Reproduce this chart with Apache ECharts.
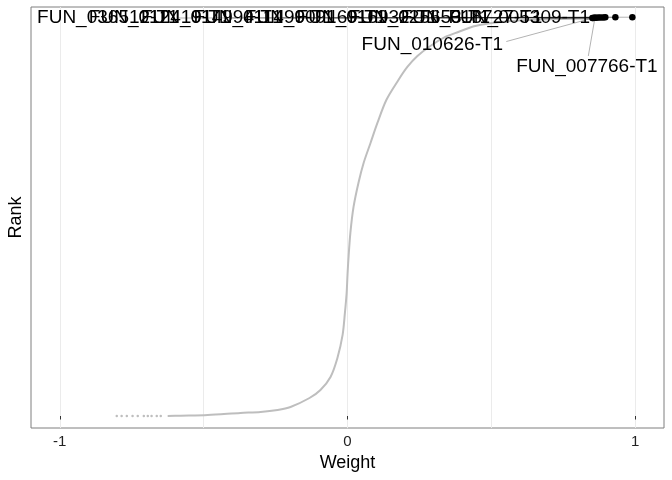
<!DOCTYPE html>
<html><head><meta charset="utf-8">
<script src="https://cdn.jsdelivr.net/npm/echarts@6/dist/echarts.min.js"></script>
<style>html,body{margin:0;padding:0;background:#fff}#c{width:672px;height:480px}</style>
</head><body><div id="c"></div>
<script>
// Ranked weight curve, bottom to top
const curveWeight = [-0.625,-0.580,-0.486,-0.372,-0.302,-0.243,-0.198,-0.132,-0.094,-0.059,-0.035,-0.017,-0.009,-0.003,0.000,0.003,0.010,0.021,0.038,0.056,0.080,0.104,0.135,0.177,0.208,0.243,0.288,0.340,0.385,0.444,0.531,0.670,0.844];
const curveRank   = [0,4,13,38,50,75,113,225,325,488,725,1013,1288,1538,1763,1950,2288,2613,2913,3163,3413,3663,3950,4200,4363,4500,4625,4738,4800,4875,4925,4956,4969];
// Sparse low-weight points at the bottom
const sparseWeight = [-0.649,-0.663,-0.681,-0.694,-0.708,-0.729,-0.747,-0.767,-0.785,-0.802];
const sparseRank   = [0,0,0,0,0,0,0,0,0,0];
// Highlighted top genes
const topWeight = [0.990,0.931,0.896,0.889,0.880,0.872,0.865,0.858,0.851,0.854,0.860];
const topRank   = [4985,4984,4983,4982,4981,4980,4979,4978,4975,4976,4977];
// Gene labels
const labelNames = ['FUN_036512-T1','FUN_012419-T1','FUN_014994-T1','FUN_011499-T1','FUN_009169-T1','FUN_016932-T1','FUN_025653-T1','FUN_018727-T1','FUN_005309-T1','FUN_010626-T1','FUN_007766-T1'];
const labelWeight = [-0.833,-0.653,-0.472,-0.292,-0.111,0.069,0.250,0.431,0.597,0.295,0.832];
const labelRank   = [4975,4975,4975,4975,4975,4975,4975,4975,4975,4638,4363];
const segFromWeight = [-0.587,-0.406,-0.226,-0.045,0.135,0.316,0.497,0.677,0.844,0.552,0.837];
const segFromRank   = [4975,4975,4975,4975,4975,4975,4975,4975,4975,4681,4500];
const xTicks = [-1,0,1];
const xGrid = [-1,-0.5,0,0.5,1];

const F = '"Liberation Sans", Arial, sans-serif';
const chart = echarts.init(document.getElementById('c'), null, {renderer:'canvas'});
const zip = (a,b)=>a.map((v,i)=>[v,b[i]]);
const segs = labelNames.map((n,i)=>({coords:[[segFromWeight[i],segFromRank[i]],[topWeight[i],topRank[i]]]}));
chart.setOption({
  animation:false,
  textStyle:{fontFamily:F},
  grid:{left:31,right:8,top:7,bottom:52,show:true,borderColor:'#7f7f7f',borderWidth:1,backgroundColor:'#fff',
        outerBoundsMode:'none',containLabel:false},
  xAxis:[
    {type:'value',min:-1.1,max:1.1,position:'bottom',
     name:'Weight',nameLocation:'middle',nameGap:26,
     nameTextStyle:{fontSize:18,color:'#000',fontFamily:F},
     axisLine:{show:false},
     axisTick:{show:true,customValues:xTicks,length:3.5,lineStyle:{color:'#333'}},
     axisLabel:{show:true,customValues:xTicks,fontSize:15,color:'#222',margin:6,fontFamily:F},
     splitLine:{show:false}},
    {type:'value',min:-1.1,max:1.1,position:'top',
     axisLine:{show:false},
     axisTick:{show:false,customValues:xGrid},
     axisLabel:{show:false},
     splitLine:{show:true,lineStyle:{color:'#ebebeb',width:1}}}
  ],
  yAxis:{type:'value',min:-150,max:5112.5,
    name:'Rank',nameLocation:'middle',nameGap:6,nameRotate:90,
    nameTextStyle:{fontSize:18,color:'#000',fontFamily:F},
    axisLine:{show:false},axisTick:{show:false},axisLabel:{show:false},splitLine:{show:false}},
  series:[
    {type:'line',data:zip(curveWeight,curveRank),showSymbol:false,smooth:0.3,
     lineStyle:{color:'#bebebe',width:2},z:2},
    {type:'scatter',data:zip(sparseWeight,sparseRank),symbolSize:2.5,
     itemStyle:{color:'#bebebe',opacity:1},z:2},
    {type:'lines',coordinateSystem:'cartesian2d',data:segs,
     lineStyle:{color:'rgba(0,0,0,0.3)',width:1,opacity:1},z:3},
    {type:'scatter',data:zip(topWeight,topRank),symbolSize:6.5,
     itemStyle:{color:'#000',opacity:1},z:4},
    {type:'scatter',data:labelNames.map((n,i)=>({name:n,value:[labelWeight[i],labelRank[i]]})),
     symbolSize:1,itemStyle:{color:'rgba(0,0,0,0)',opacity:1},z:5,
     label:{show:true,position:'inside',formatter:'{b}',fontSize:19,color:'#000',opacity:1,
            textBorderWidth:0,textBorderColor:'transparent',fontFamily:F}}
  ]
});
</script></body></html>
